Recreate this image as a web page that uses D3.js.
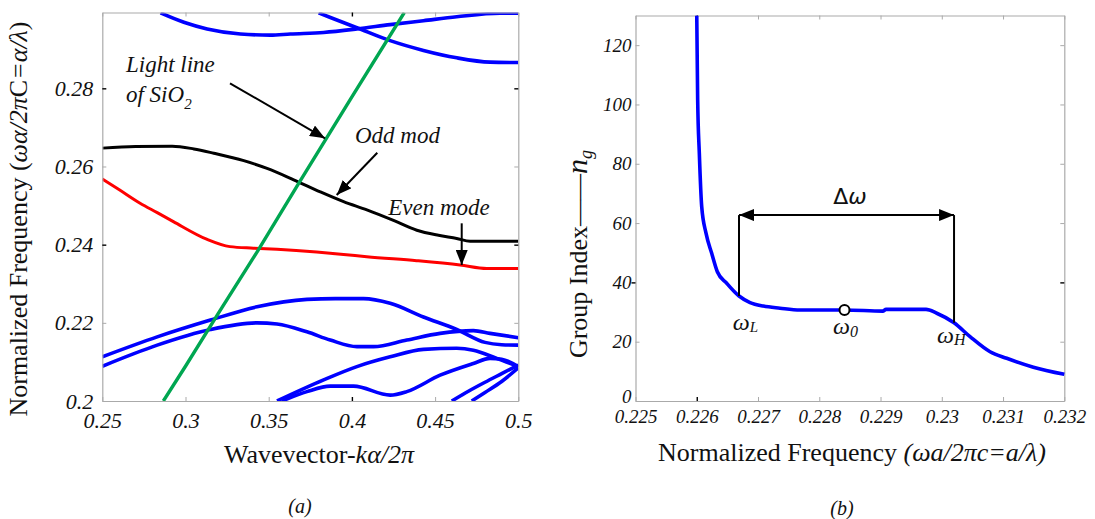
<!DOCTYPE html>
<html><head><meta charset="utf-8">
<script src="https://cdn.jsdelivr.net/npm/d3@7"></script>
<style>
body{margin:0;background:#fff}
svg{display:block}
svg text{font-family:'Liberation Serif','DejaVu Serif',serif !important;fill:#111}
svg text .sans{font-family:'DejaVu Sans',sans-serif !important}
</style>
</head><body>
<svg id="c" width="1095" height="519"></svg>
<script>
// ---------------- Panel (a) data : [k a/2pi, normalized frequency] ----------------
const oddMode = [[0.25,0.2647],[0.27,0.2651],[0.292,0.2652],[0.305,0.2645],[0.317,0.2634],[0.335,0.2615],[0.349,0.2595],[0.365,0.2566],[0.381,0.2535],[0.395,0.2510],[0.409,0.2489],[0.425,0.2462],[0.439,0.2437],[0.452,0.2424],[0.463,0.2416],[0.471,0.2409],[0.5,0.2409]];
const evenMode = [[0.25,0.2568],[0.26,0.2541],[0.2727,0.2506],[0.283,0.2482],[0.2927,0.2459],[0.3127,0.2414],[0.3267,0.2395],[0.3408,0.2391],[0.355,0.2388],[0.3788,0.2381],[0.395,0.2375],[0.4089,0.2369],[0.4389,0.2359],[0.465,0.2348],[0.481,0.2339],[0.5,0.2339]];
const lightLine = [[0.2867,0.2],[0.3,0.2089],[0.32,0.2226],[0.3437,0.2386],[0.3682,0.2558],[0.40,0.2778],[0.4315,0.2994]];
const band1 = [[0.285,0.2993],[0.299,0.2969],[0.313,0.2952],[0.333,0.2939],[0.351,0.2936],[0.363,0.2939],[0.383,0.2943],[0.403,0.2952],[0.423,0.2963],[0.443,0.2973],[0.463,0.2983],[0.489,0.2992],[0.5,0.2992]];
const band2 = [[0.380,0.2993],[0.403,0.2955],[0.423,0.2922],[0.443,0.2897],[0.463,0.2878],[0.483,0.2867],[0.5,0.2866]];
const band3 = [[0.25,0.2113],[0.283,0.2164],[0.315,0.2207],[0.343,0.2241],[0.373,0.2260],[0.39,0.2262],[0.407,0.2262],[0.423,0.2250],[0.443,0.2215],[0.463,0.2183],[0.48,0.2150],[0.49,0.2144],[0.5,0.2143]];
const band4 = [[0.25,0.2089],[0.283,0.2143],[0.315,0.2183],[0.343,0.2200],[0.355,0.2197],[0.373,0.2177],[0.387,0.2156],[0.403,0.2139],[0.413,0.2139],[0.433,0.2156],[0.453,0.2173],[0.473,0.2180],[0.483,0.2173],[0.5,0.2162]];
const band5 = [[0.355,0.2],[0.383,0.2054],[0.403,0.2088],[0.423,0.2113],[0.443,0.2132],[0.463,0.2135],[0.473,0.2130],[0.487,0.2109],[0.5,0.2088]];
const band6 = [[0.358,0.2],[0.373,0.2024],[0.387,0.2038],[0.401,0.2038],[0.423,0.2015],[0.433,0.2024],[0.453,0.2066],[0.473,0.2096],[0.483,0.2109],[0.49,0.2107],[0.5,0.2088]];
const band7 = [[0.460,0.2],[0.47,0.2025],[0.48,0.2048],[0.49,0.2070],[0.5,0.2092]];
const band8 = [[0.472,0.2],[0.48,0.2022],[0.49,0.2050],[0.5,0.2085]];
const blueBands = [band1,band2,band3,band4,band5,band6,band7,band8];

const aXTicks = [0.25,0.3,0.35,0.4,0.45,0.5];
const aXLabels = ["0.25","0.3","0.35","0.4","0.45","0.5"];
const aYTicks = [0.2,0.22,0.24,0.26,0.28];
const aYLabels = ["0.2","0.22","0.24","0.26","0.28"];

// annotations (data coordinates)
const aArrows = [[[0.32674,0.28128],[0.38383,0.26721]],[[0.41526,0.26352],[0.39087,0.2527]],[[0.46599,0.24546],[0.46599,0.23479]]];

// ---------------- Panel (b) data : group index vs normalized frequency ----------------
const ngFreq = [0.22600,0.226015,0.226042,0.226081,0.226151,0.226244,0.226336,0.226489,0.22669,0.22687,0.227087,0.227359,0.227686,0.228412,0.229037,0.22909,0.229743,0.229918,0.2302,0.230461,0.230788,0.23106,0.231495,0.232];
const ngValue = [130,101.5,83.5,65.5,56.6,49.8,43.6,39.7,35.4,33.2,32.0,31.3,30.7,30.7,30.3,30.9,30.9,29.6,26.4,21.7,16.6,14.4,11.4,9.0];
const bXTicks = [0.225,0.226,0.227,0.228,0.229,0.23,0.231,0.232];
const bXLabels = ["0.225","0.226","0.227","0.228","0.229","0.23","0.231","0.232"];
const bYTicks = [0,20,40,60,80,100,120];
const bYLabels = ["0","20","40","60","80","100","120"];
const omegaL = [0.22669,35.4], omegaH = [0.2302,26.4], omega0 = [0.228412,30.7];
const bandLevel = 62.7;

// ---------------- drawing ----------------
const SERIF = "'Liberation Serif','DejaVu Serif',serif";
const svg = d3.select('#c');
svg.append('rect').attr('width',1095).attr('height',519).attr('fill','#fff');
const defs = svg.append('defs');
defs.append('marker').attr('id','ah').attr('viewBox','0 0 15 12').attr('refX',15).attr('refY',6)
  .attr('markerWidth',15).attr('markerHeight',12).attr('markerUnits','userSpaceOnUse').attr('orient','auto-start-reverse')
  .append('path').attr('d','M0,0L15,6L0,12Z').attr('fill','#000');

const GRAY = '#aaaaaa';
function frame(x, y, xt, xl, yt, yl, fs, padX, padY, blackX, blackY, outY){
  const g = svg.append('g').attr('font-family',SERIF);
  const fmt = (ticks, labels) => d => labels[ticks.indexOf(d)];
  const x0 = x.range()[0], x1 = x.range()[1], y0 = y.range()[0], y1 = y.range()[1];
  const gb = g.append('g').attr('transform',`translate(0,${y0})`)
    .call(d3.axisBottom(x).tickValues(xt).tickFormat(fmt(xt,xl)).tickSize(-4).tickSizeOuter(0).tickPadding(padX));
  const gt = g.append('g').attr('transform',`translate(0,${y1})`)
    .call(d3.axisTop(x).tickValues(xt).tickFormat('').tickSize(-4).tickSizeOuter(0));
  const gl = g.append('g').attr('transform',`translate(${x0},0)`)
    .call(d3.axisLeft(y).tickValues(yt).tickFormat(fmt(yt,yl)).tickSize(-4).tickSizeOuter(0).tickPadding(padY));
  const gr = g.append('g').attr('transform',`translate(${x1},0)`)
    .call(d3.axisRight(y).tickValues(yt).tickFormat('').tickSize(-4).tickSizeOuter(0));
  g.selectAll('g').attr('font-family',SERIF);
  g.selectAll('.domain').attr('stroke',GRAY).attr('stroke-width',1.2);
  g.selectAll('.tick line').attr('stroke',GRAY).attr('stroke-width',1);
  g.selectAll('.tick text').attr('font-family',SERIF).attr('font-style','italic')
    .attr('font-size',fs).attr('fill','#222');
  [gb,gt].forEach(a=>a.selectAll('.tick').filter(d=>blackX.includes(d)).select('line').attr('stroke','#000').attr('stroke-width',1.4));
  [gl,gr].forEach(a=>a.selectAll('.tick').filter(d=>blackY.includes(d)).select('line').attr('stroke','#000').attr('stroke-width',1.4));
  if(outY) gl.selectAll('.tick').filter(d=>outY.includes(d)).select('line').attr('x2',-4);
  return {gb,gl};
}

// ----- Panel (a)
const xA = d3.scaleLinear().domain([0.25,0.5]).range([102.3,518.3]);
const yA = d3.scaleLinear().domain([0.2,0.2994]).range([401,12.5]);
defs.append('clipPath').attr('id','clipA').append('rect')
  .attr('x',xA(0.25)).attr('y',yA(0.2994)).attr('width',xA(0.5)-xA(0.25)).attr('height',yA(0.2)-yA(0.2994));
const lineA = d3.line().x(d=>xA(d[0])).y(d=>yA(d[1])).curve(d3.curveMonotoneX);
const pa = svg.append('g').attr('clip-path','url(#clipA)');
pa.selectAll('path.band').data(blueBands).join('path').attr('class','band')
  .attr('d',lineA).attr('fill','none').attr('stroke','#0000ff').attr('stroke-width',3.6).attr('stroke-linejoin','round');
pa.append('path').attr('d',lineA(evenMode)).attr('fill','none').attr('stroke','#ff0000').attr('stroke-width',3).attr('stroke-linejoin','round');
pa.append('path').attr('d',lineA(oddMode)).attr('fill','none').attr('stroke','#000').attr('stroke-width',3).attr('stroke-linejoin','round');
pa.append('path').attr('d',d3.line().x(d=>xA(d[0])).y(d=>yA(d[1]))(lightLine)).attr('fill','none').attr('stroke','#00a651').attr('stroke-width',3.4).attr('stroke-linejoin','round');

frame(xA, yA, aXTicks, aXLabels, aYTicks, aYLabels, 22, 11.5, 9, [0.4], [0.24,0.28], null);

svg.selectAll('line.arrA').data(aArrows).join('line').attr('class','arrA')
  .attr('x1',d=>xA(d[0][0])).attr('y1',d=>yA(d[0][1])).attr('x2',d=>xA(d[1][0])).attr('y2',d=>yA(d[1][1]))
  .attr('stroke','#000').attr('stroke-width',2).attr('marker-end','url(#ah)');

function itext(x,y,parts,fs,anchor){
  const t = svg.append('text').attr('x',x).attr('y',y).attr('font-size',fs)
    .attr('font-family',SERIF).attr('text-anchor',anchor||'start');
  parts.forEach(p=>{
    const s = t.append('tspan').text(p.t);
    if(p.i) s.attr('font-style','italic');
    if(p.fs) s.attr('font-size',p.fs);
    if(p.sub){ s.attr('font-size',p.sub).attr('dy',p.dy||6); }
    if(p.sans) s.attr('class','sans');
  });
  return t;
}
itext(xA(0.26424),yA(0.28425),[{t:'Light line',i:1}],23);
itext(xA(0.26424),yA(0.27657),[{t:'of SiO',i:1},{t:'2',i:1,sub:15,dy:7}],23);
itext(xA(0.40186),yA(0.26608),[{t:'Odd mod',i:1}],23);
itext(xA(0.42188),yA(0.24759),[{t:'Even mode',i:1}],23);

// axis titles panel (a)
itext(319,463,[{t:'Wavevector-'},{t:'kα/2π',i:1}],26,'middle');
itext(0,0,[{t:'Normalized Frequency ('},{t:'ωα/2π',i:1},{t:'C'},{t:'=α/λ',i:1},{t:')'}],26,'middle')
  .attr('transform','translate(27,219) rotate(-90)');
itext(300,513,[{t:'(a)',i:1}],20,'middle');

// ----- Panel (b)
const xB = d3.scaleLinear().domain([0.225,0.232]).range([635.5,1064.3]);
const yB = d3.scaleLinear().domain([0,130]).range([401,15.5]);
defs.append('clipPath').attr('id','clipB').append('rect')
  .attr('x',xB(0.225)).attr('y',yB(130)).attr('width',xB(0.232)-xB(0.225)+2).attr('height',yB(0)-yB(130));
const fb = frame(xB, yB, bXTicks, bXLabels, bYTicks, bYLabels, 19, 8.8, 4, [0.226], [40], [40]);
fb.gl.selectAll('.tick').filter(d=>d===0).select('text').attr('dy','0.1em');

const ngData = ngFreq.map((f,i)=>[f,ngValue[i]]);
const lineB = d3.line().x(d=>xB(d[0])).y(d=>yB(d[1])).curve(d3.curveMonotoneX);
svg.append('g').attr('clip-path','url(#clipB)').append('path').attr('d',lineB(ngData))
  .attr('fill','none').attr('stroke','#0000ff').attr('stroke-width',3.6).attr('stroke-linejoin','round');

// bandwidth markers
svg.selectAll('line.vb').data([omegaL,omegaH]).join('line').attr('class','vb')
  .attr('x1',d=>xB(d[0])).attr('x2',d=>xB(d[0])).attr('y1',yB(bandLevel)).attr('y2',d=>yB(d[1]))
  .attr('stroke','#000').attr('stroke-width',2);
svg.append('line').attr('x1',xB(omegaL[0])).attr('x2',xB(omegaH[0])).attr('y1',yB(bandLevel)).attr('y2',yB(bandLevel))
  .attr('stroke','#000').attr('stroke-width',2).attr('marker-start','url(#ah)').attr('marker-end','url(#ah)');
svg.append('circle').attr('cx',xB(omega0[0])).attr('cy',yB(omega0[1])).attr('r',5)
  .attr('fill','#fff').attr('stroke','#000').attr('stroke-width',2);

itext(xB(0.228502),yB(66.4),[{t:'Δ',sans:1},{t:'ω',i:1,sans:1}],22,'middle');
itext(xB(0.226587),yB(23.9),[{t:'ω',i:1},{t:'L',i:1,sub:15,dy:2}],24);
itext(xB(0.228224),yB(22.6),[{t:'ω',i:1},{t:'0',i:1,sub:16,dy:3}],24);
itext(xB(0.229922),yB(19.5),[{t:'ω',i:1},{t:'H',i:1,sub:16,dy:2}],24);

itext(852,461,[{t:'Normalized Frequency '},{t:'(ωa/2πc=a/λ)',i:1}],26,'middle');
itext(0,0,[{t:'Group Index——'},{t:'n',i:1,fs:30},{t:'g',i:1,sub:18,dy:5}],26,'middle')
  .attr('transform','translate(587,254) rotate(-90)');
itext(842,515,[{t:'(b)',i:1}],20,'middle');
</script>
</body></html>
